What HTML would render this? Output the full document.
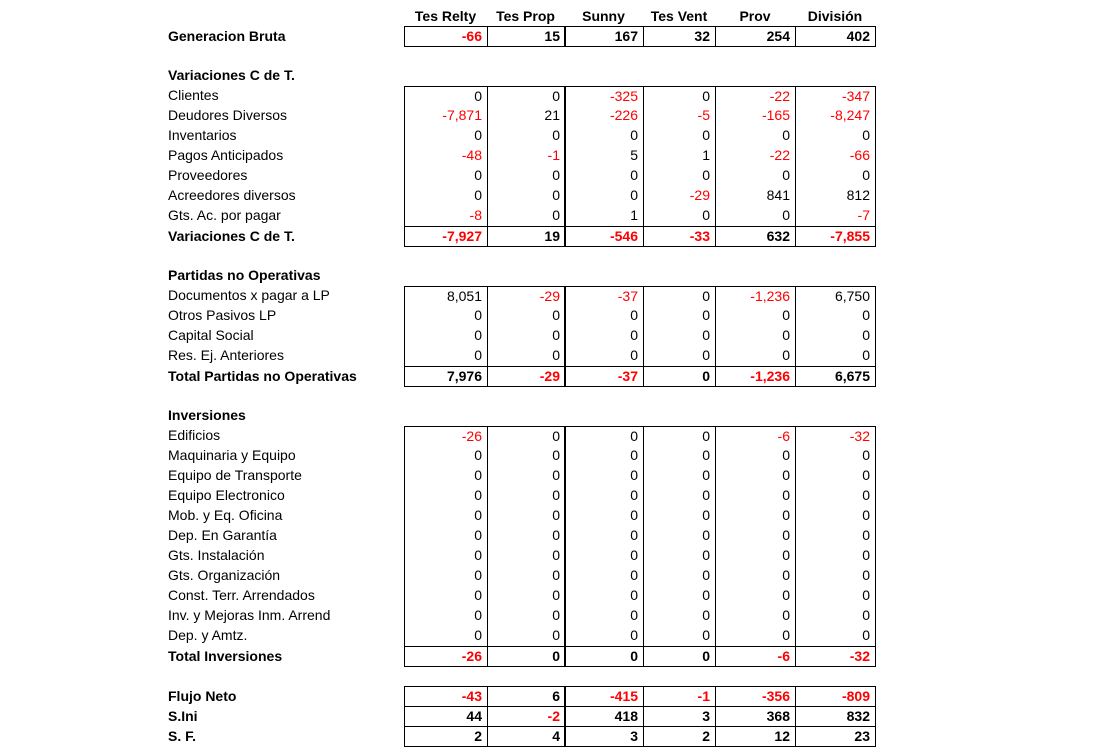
<!DOCTYPE html>
<html><head><meta charset="utf-8"><style>
body{margin:0;width:1115px;height:748px;background:#fff;position:relative;overflow:hidden;font-family:"Liberation Sans",Arial,sans-serif;font-size:14px;color:#000}
.c{position:absolute;box-sizing:border-box;height:20px;line-height:19px;white-space:nowrap}
.v{text-align:right;padding-right:5px}
.b{font-weight:bold}
.r{color:#ff0000}
.h{text-align:center;font-weight:bold}
</style></head><body>
<script>
const cols=["Tes Relty","Tes Prop","Sunny","Tes Vent","Prov","División"];
const colX=[404,487,564,643,715,795,875];
const rows=[
[1,"g","Generacion Bruta",[-66,15,167,32,254,402]],
[3,"t","Variaciones C de T."],
[4,"f","Clientes",[0,0,-325,0,-22,-347]],
[5,"i","Deudores Diversos",[-7871,21,-226,-5,-165,-8247]],
[6,"i","Inventarios",[0,0,0,0,0,0]],
[7,"i","Pagos Anticipados",[-48,-1,5,1,-22,-66]],
[8,"i","Proveedores",[0,0,0,0,0,0]],
[9,"i","Acreedores diversos",[0,0,0,-29,841,812]],
[10,"i","Gts. Ac. por pagar",[-8,0,1,0,0,-7]],
[11,"s","Variaciones C de T.",[-7927,19,-546,-33,632,-7855]],
[13,"t","Partidas no Operativas"],
[14,"f","Documentos x pagar a LP",[8051,-29,-37,0,-1236,6750]],
[15,"i","Otros Pasivos LP",[0,0,0,0,0,0]],
[16,"i","Capital Social",[0,0,0,0,0,0]],
[17,"i","Res. Ej. Anteriores",[0,0,0,0,0,0]],
[18,"s","Total Partidas no Operativas",[7976,-29,-37,0,-1236,6675]],
[20,"t","Inversiones"],
[21,"f","Edificios",[-26,0,0,0,-6,-32]],
[22,"i","Maquinaria y Equipo",[0,0,0,0,0,0]],
[23,"i","Equipo de Transporte",[0,0,0,0,0,0]],
[24,"i","Equipo Electronico",[0,0,0,0,0,0]],
[25,"i","Mob. y Eq. Oficina",[0,0,0,0,0,0]],
[26,"i","Dep. En Garantía",[0,0,0,0,0,0]],
[27,"i","Gts. Instalación",[0,0,0,0,0,0]],
[28,"i","Gts. Organización",[0,0,0,0,0,0]],
[29,"i","Const. Terr. Arrendados",[0,0,0,0,0,0]],
[30,"i","Inv. y Mejoras Inm. Arrend",[0,0,0,0,0,0]],
[31,"i","Dep. y Amtz.",[0,0,0,0,0,0]],
[32,"s","Total Inversiones",[-26,0,0,0,-6,-32]],
[34,"g","Flujo Neto",[-43,6,-415,-1,-356,-809]],
[35,"g","S.Ini",[44,-2,418,3,368,832]],
[36,"g","S. F.",[2,4,3,2,12,23]]
];
const top0=6,rh=20;
function fmt(n){return n.toLocaleString('en-US');}
function add(el){document.body.appendChild(el);return el;}
cols.forEach((c,j)=>{
  const d=document.createElement('div');
  
  
  d.className='c h';d.style.left=colX[j]+'px';d.style.width=(colX[j+1]-colX[j])+'px';d.style.top=(top0+1)+'px';
  d.textContent=c;add(d);
});
rows.forEach(r=>{
  const [ri,t,label,vals]=r;
  const y=top0+ri*rh;
  const bold=(t!=="i"&&t!=="f");
  const l=document.createElement('div');
  
  
  l.className='c'+(bold?' b':'');l.style.left='168px';l.style.top=(y+((t==="g"||t==="s")?1:0))+'px';l.textContent=label;add(l);
  if(!vals)return;
  vals.forEach((v,j)=>{
    const d=document.createElement('div');
    
    
    d.className='c v'+(bold?' b':'')+(v<0?' r':'');
    const x=colX[j],w=colX[j+1]-colX[j];
    d.style.left=x+'px';d.style.width=(w+1)+'px';d.style.top=y+'px';
    const lw=(j===2)?'2px':'1px';
    d.style.borderLeft=lw+' solid #000';
    d.style.borderRight=(j===1?'0':'1px')+' solid #000';
    if(t==="g"||t==="s"){d.style.borderTop='1px solid #000';d.style.borderBottom='1px solid #000';d.style.height='21px';}
    if(t==="f"){d.style.borderTop='1px solid #000';}
    d.textContent=fmt(v);add(d);
  });
});
</script>
</body></html>
